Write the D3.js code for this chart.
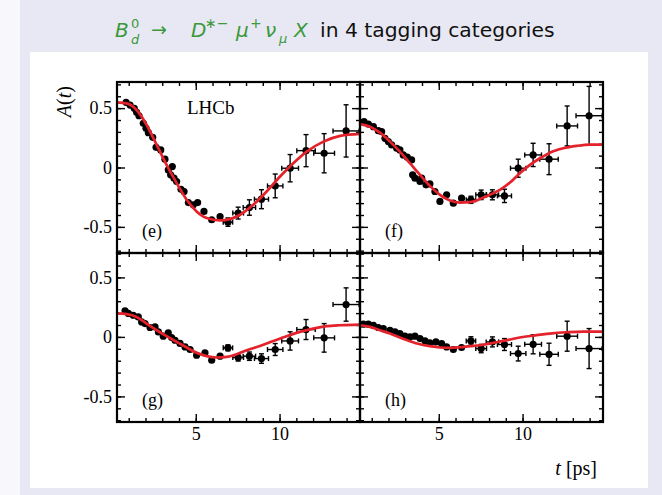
<!DOCTYPE html>
<html>
<head>
<meta charset="utf-8">
<script src="https://cdn.jsdelivr.net/npm/d3@7"></script>
<style>
  body { margin: 0; background: #fff; }
  svg { display: block; }
</style>
</head>
<body>
<svg id="chart" width="662" height="495"></svg>
<script>
// ---- data ----
// dense bins (t [ps], A)
const eDense = [[0.84,0.549],[1.08,0.526],[1.33,0.498],[1.47,0.465],[1.61,0.436],[1.87,0.372],[2.03,0.330],[2.17,0.293],[2.43,0.254],[2.63,0.170],[2.91,0.148],[3.16,0.070],[3.36,-0.020],[3.50,-0.062],[3.60,0.008],[3.70,-0.090],[3.86,-0.118],[4.12,-0.183],[4.30,-0.202],[4.56,-0.295],[4.85,-0.314],[5.11,-0.295],[5.49,-0.370],[5.95,-0.440],[6.45,-0.413]];
const fDense = [[0.54,0.386],[0.80,0.366],[1.10,0.344],[1.39,0.310],[1.59,0.302],[1.79,0.246],[1.99,0.218],[2.19,0.190],[2.49,0.162],[2.68,0.148],[2.88,0.106],[3.12,0.087],[3.38,0.064],[3.44,-0.062],[3.58,-0.090],[3.88,-0.118],[3.98,-0.090],[4.24,-0.146],[4.47,-0.138],[4.77,-0.202],[5.07,-0.286],[5.47,-0.230],[5.87,-0.300],[6.36,-0.258]];
const gDense = [[0.78,0.219],[0.98,0.197],[1.27,0.182],[1.57,0.168],[1.77,0.126],[1.97,0.112],[2.27,0.079],[2.57,0.084],[2.77,0.042],[3.06,0.006],[3.36,0.034],[3.56,-0.005],[3.76,-0.028],[4.06,-0.055],[4.36,-0.084],[4.66,-0.106],[5.05,-0.154],[5.55,-0.134],[5.95,-0.196],[6.45,-0.162]];
const hDense = [[0.50,0.107],[0.80,0.107],[1.10,0.098],[1.39,0.079],[1.69,0.070],[2.09,0.056],[2.39,0.042],[2.68,0.028],[2.98,0.006],[3.28,0.000],[3.58,0.006],[3.88,-0.014],[4.18,-0.034],[4.47,-0.050],[4.83,-0.042],[5.17,-0.056],[5.47,-0.084],[5.87,-0.106],[6.36,-0.089]];

// wide bins with visible errors (shared binning)
const binT = [6.92, 7.53, 8.2, 8.92, 9.74, 10.63, 11.58, 12.66, 13.97];
const binHalf = [0.28, 0.32, 0.37, 0.42, 0.46, 0.5, 0.55, 0.62, 0.78];
const eBinA = [-0.460, -0.384, -0.337, -0.267, -0.155, -0.006, 0.142, 0.120, 0.308];
const eBinErr = [0.035, 0.05, 0.065, 0.08, 0.1, 0.115, 0.135, 0.165, 0.22];
const fBinA = [-0.272, -0.230, -0.230, -0.239, -0.006, 0.106, 0.070, 0.350, 0.436];
const fBinErr = [0.03, 0.04, 0.042, 0.056, 0.076, 0.098, 0.13, 0.168, 0.247];
const gBinA = [-0.092, -0.173, -0.162, -0.182, -0.106, -0.034, 0.062, -0.008, 0.272];
const gBinErr = [0.025, 0.03, 0.035, 0.04, 0.05, 0.077, 0.084, 0.12, 0.14];
const hBinA = [-0.034, -0.098, -0.042, -0.064, -0.140, -0.062, -0.146, 0.006, -0.098];
const hBinErr = [0.035, 0.035, 0.042, 0.05, 0.062, 0.08, 0.093, 0.126, 0.168];

// fitted curves
const eCurveT = [0.3,0.877,1.47,2.07,2.67,3.26,3.86,4.46,5.05,5.65,6.45,7.04,7.64,8.43,9.23,10.03,10.82,11.62,12.62,13.62,14.8];
const eCurveA = [0.549,0.540,0.484,0.358,0.190,0.022,-0.132,-0.272,-0.370,-0.426,-0.446,-0.435,-0.398,-0.314,-0.202,-0.076,0.036,0.134,0.218,0.266,0.283];
const fCurveT = [0.3,0.897,1.49,2.09,2.68,3.28,3.88,4.47,5.07,5.67,6.26,6.86,7.46,8.05,8.65,9.25,9.84,10.44,11.04,11.63,12.43,13.22,14.02,14.8];
const fCurveA = [0.366,0.344,0.293,0.218,0.134,0.036,-0.062,-0.155,-0.230,-0.278,-0.295,-0.292,-0.266,-0.230,-0.188,-0.127,-0.048,0.022,0.078,0.125,0.162,0.182,0.193,0.193];
const gCurveT = [0.3,0.877,1.47,2.07,2.67,3.26,3.86,4.46,5.05,5.65,6.25,6.85,7.44,8.04,8.83,9.63,10.42,11.22,12.01,12.81,13.61,14.8];
const gCurveA = [0.197,0.191,0.168,0.112,0.056,0.006,-0.042,-0.089,-0.134,-0.162,-0.173,-0.168,-0.145,-0.112,-0.076,-0.034,0.006,0.042,0.070,0.090,0.098,0.104];
const hCurveT = [0.3,0.897,1.49,2.09,2.68,3.28,3.88,4.47,5.07,5.67,6.26,6.86,7.46,8.05,8.65,9.25,9.84,10.64,11.63,12.63,13.62,14.8];
const hCurveA = [0.098,0.084,0.056,0.028,-0.005,-0.036,-0.062,-0.078,-0.089,-0.092,-0.087,-0.078,-0.070,-0.056,-0.039,-0.022,-0.005,0.011,0.028,0.039,0.045,0.045];

const yMajor = [-0.5, 0, 0.5];
const yMinor = d3.range(-7, 8).map((d) => d / 10);
const xMajor = [5, 10];
const xMinor = d3.range(1, 15);

const panels = [
  { label: "(e)", col: 0, row: 0, dense: eDense, binA: eBinA, binErr: eBinErr, curveT: eCurveT, curveA: eCurveA },
  { label: "(f)", col: 1, row: 0, dense: fDense, binA: fBinA, binErr: fBinErr, curveT: fCurveT, curveA: fCurveA },
  { label: "(g)", col: 0, row: 1, dense: gDense, binA: gBinA, binErr: gBinErr, curveT: gCurveT, curveA: gCurveA },
  { label: "(h)", col: 1, row: 1, dense: hDense, binA: hBinA, binErr: hBinErr, curveT: hCurveT, curveA: hCurveA },
];

// ---- drawing ----
const svg = d3.select("#chart");
const serif = "'Liberation Serif', 'Times New Roman', serif";
const sans = "'DejaVu Sans', sans-serif";
const green = "#3b983b";
const red = "#e3222b";

svg.append("rect").attr("width", 662).attr("height", 495).attr("fill", "#e7e8f3");
svg.append("rect").attr("width", 20).attr("height", 495).attr("fill", "#f8f8fc");
svg.append("rect").attr("x", 30).attr("y", 52).attr("width", 618).attr("height", 436).attr("fill", "#fff");

// title
const title = svg.append("g").attr("font-family", sans);
const titleParts = [
  { x: 115, y: 37, s: 20, txt: "B", it: true, c: green },
  { x: 131, y: 28, s: 13, txt: "0", it: false, c: green },
  { x: 131, y: 44, s: 13, txt: "d", it: true, c: green },
  { x: 151, y: 36, s: 19, txt: "→", it: false, c: green },
  { x: 191, y: 37, s: 20, txt: "D", it: true, c: green },
  { x: 205, y: 28, s: 14, txt: "∗−", it: false, c: green },
  { x: 236, y: 37, s: 20, txt: "μ", it: true, c: green },
  { x: 250, y: 28, s: 14, txt: "+", it: false, c: green },
  { x: 265, y: 37, s: 20, txt: "ν", it: true, c: green },
  { x: 279, y: 43, s: 13, txt: "μ", it: true, c: green },
  { x: 294, y: 37, s: 20, txt: "X", it: true, c: green },
  { x: 320, y: 37, s: 20.3, txt: "in 4 tagging categories", it: false, c: "#111" },
];
titleParts.forEach((d) => {
  title.append("text")
    .attr("x", d.x).attr("y", d.y)
    .attr("font-size", d.s)
    .attr("font-style", d.it ? "italic" : "normal")
    .attr("fill", d.c)
    .text(d.txt);
});

const frame = { left: 117, mid: 360, right: 603, top: 82, midY: 253, bottom: 422 };
const tDomain = [0.3, 14.8];
const yFmt = (d) => (d === 0 ? "0" : String(d));

function ticks(g, axis, transform, len) {
  g.append("g")
    .attr("transform", transform)
    .call(axis.tickSize(-len).tickFormat(""))
    .call((s) => s.select(".domain").remove())
    .call((s) => s.selectAll("line").attr("stroke", "#000").attr("stroke-width", 1.4));
}

panels.forEach((p) => {
  const x0 = p.col === 0 ? frame.left : frame.mid;
  const x1 = p.col === 0 ? frame.mid : frame.right;
  const y0 = p.row === 0 ? frame.top : frame.midY;
  const y1 = p.row === 0 ? frame.midY : frame.bottom;

  const x = d3.scaleLinear().domain(tDomain).range([x0, x1]);
  const y = d3.scaleLinear()
    .domain(p.row === 0 ? [-0.72, 0.72] : [-0.715, 0.705])
    .range([y1, y0]);

  const g = svg.append("g");
  const clipId = "clip" + p.col + p.row;
  svg.append("clipPath").attr("id", clipId)
    .append("rect").attr("x", x0).attr("y", y0).attr("width", x1 - x0).attr("height", y1 - y0);

  // ticks on all four sides, pointing inwards
  ticks(g, d3.axisBottom(x).tickValues(xMinor), `translate(0,${y1})`, 4);
  ticks(g, d3.axisBottom(x).tickValues(xMajor), `translate(0,${y1})`, 8);
  ticks(g, d3.axisTop(x).tickValues(xMinor), `translate(0,${y0})`, 4);
  ticks(g, d3.axisTop(x).tickValues(xMajor), `translate(0,${y0})`, 8);
  ticks(g, d3.axisLeft(y).tickValues(yMinor), `translate(${x0},0)`, 4);
  ticks(g, d3.axisLeft(y).tickValues(yMajor), `translate(${x0},0)`, 8);
  ticks(g, d3.axisRight(y).tickValues(yMinor), `translate(${x1},0)`, 4);
  ticks(g, d3.axisRight(y).tickValues(yMajor), `translate(${x1},0)`, 8);

  // tick labels on the outer edges
  if (p.col === 0) {
    g.append("g")
      .attr("transform", `translate(${x0},0)`)
      .call(d3.axisLeft(y).tickValues(yMajor).tickSize(0).tickPadding(5).tickFormat(yFmt))
      .call((s) => s.select(".domain").remove())
      .call((s) => s.selectAll("text").attr("font-family", serif).attr("font-size", 18).attr("fill", "#000"));
  }
  if (p.row === 1) {
    g.append("g")
      .attr("transform", `translate(0,${y1})`)
      .call(d3.axisBottom(x).tickValues(xMajor).tickSize(0).tickPadding(5).tickFormat(d3.format("d")))
      .call((s) => s.select(".domain").remove())
      .call((s) => s.selectAll("text").attr("font-family", serif).attr("font-size", 18).attr("fill", "#000"));
  }

  // binned points with error bars
  const bins = binT.map((t, i) => ({ t, h: binHalf[i], a: p.binA[i], e: p.binErr[i] }));
  const eb = g.append("g").attr("stroke", "#000").attr("stroke-width", 1.4).attr("clip-path", `url(#${clipId})`);
  bins.forEach((d) => {
    eb.append("line").attr("x1", x(d.t)).attr("x2", x(d.t)).attr("y1", y(d.a - d.e)).attr("y2", y(d.a + d.e));
    eb.append("line").attr("x1", x(d.t) - 2.5).attr("x2", x(d.t) + 2.5).attr("y1", y(d.a - d.e)).attr("y2", y(d.a - d.e));
    eb.append("line").attr("x1", x(d.t) - 2.5).attr("x2", x(d.t) + 2.5).attr("y1", y(d.a + d.e)).attr("y2", y(d.a + d.e));
    eb.append("line").attr("x1", x(d.t - d.h)).attr("x2", x(d.t + d.h)).attr("y1", y(d.a)).attr("y2", y(d.a));
    eb.append("line").attr("x1", x(d.t - d.h)).attr("x2", x(d.t - d.h)).attr("y1", y(d.a) - 2.5).attr("y2", y(d.a) + 2.5);
    eb.append("line").attr("x1", x(d.t + d.h)).attr("x2", x(d.t + d.h)).attr("y1", y(d.a) - 2.5).attr("y2", y(d.a) + 2.5);
  });

  const pts = p.dense.map(([t, a]) => ({ t, a })).concat(bins);
  g.append("g")
    .selectAll("circle")
    .data(pts)
    .join("circle")
    .attr("cx", (d) => x(d.t))
    .attr("cy", (d) => y(d.a))
    .attr("r", 3.6)
    .attr("fill", "#000");

  // fit curve
  const line = d3.line()
    .x((d) => x(d[0]))
    .y((d) => y(d[1]))
    .curve(d3.curveMonotoneX);
  g.append("path")
    .datum(p.curveT.map((t, i) => [t, p.curveA[i]]))
    .attr("d", line)
    .attr("fill", "none")
    .attr("stroke", red)
    .attr("stroke-width", 2.7)
    .attr("clip-path", `url(#${clipId})`);

  g.append("text")
    .attr("x", x0 + 25)
    .attr("y", y1 - 16)
    .attr("font-family", serif)
    .attr("font-size", 18)
    .text(p.label);

  // panel frame
  g.append("rect")
    .attr("x", x0).attr("y", y0)
    .attr("width", x1 - x0).attr("height", y1 - y0)
    .attr("fill", "none")
    .attr("stroke", "#000")
    .attr("stroke-width", 2.2);
});

svg.append("text")
  .attr("x", 187).attr("y", 114)
  .attr("font-family", serif).attr("font-size", 19)
  .text("LHCb");

const yTitle = svg.append("text")
  .attr("transform", "translate(71,86) rotate(-90)")
  .attr("text-anchor", "end")
  .attr("font-family", serif).attr("font-size", 20);
yTitle.append("tspan").attr("font-style", "italic").text("A");
yTitle.append("tspan").text("(");
yTitle.append("tspan").attr("font-style", "italic").text("t");
yTitle.append("tspan").text(")");

const xTitle = svg.append("text")
  .attr("x", 597).attr("y", 475)
  .attr("text-anchor", "end")
  .attr("font-family", serif).attr("font-size", 20);
xTitle.append("tspan").attr("font-style", "italic").text("t");
xTitle.append("tspan").text(" [ps]");
</script>
</body>
</html>
